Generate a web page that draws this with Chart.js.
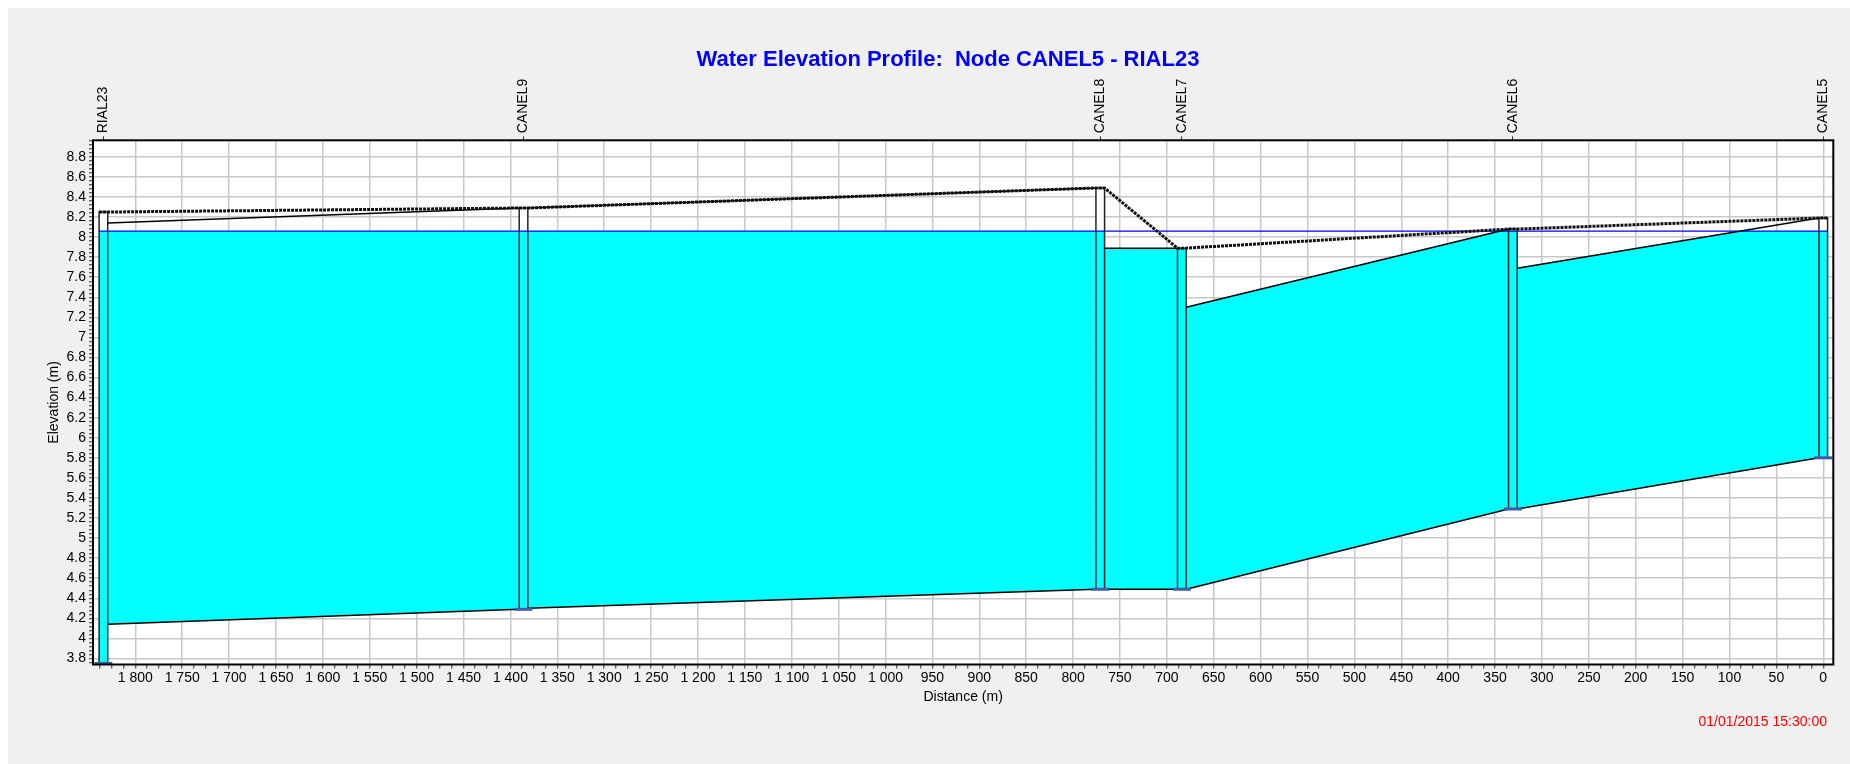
<!DOCTYPE html>
<html>
<head>
<meta charset="utf-8">
<title>Water Elevation Profile</title>
<script src="https://cdn.jsdelivr.net/npm/chart.js@4.4.1/dist/chart.umd.min.js"></script>
<style>
  html, body { margin: 0; padding: 0; background: #fff; }
  .panel { position: absolute; left: 8px; top: 8px; width: 1842px; height: 756px; background: #f0f0f0; }
  #profile { position: absolute; left: 0; top: 0; }
</style>
</head>
<body>
<div class="panel"></div>
<canvas id="profile" width="1850" height="764"></canvas>
<script>
// nodes, in order along the profile (distance measured from CANEL5)
const nodeNames  = ['RIAL23', 'CANEL9', 'CANEL8', 'CANEL7', 'CANEL6', 'CANEL5'];
const nodeDist   = [1834, 1386, 771, 684, 331, 0];
const nodeInvert = [3.75, 4.29, 4.49, 4.49, 5.29, 5.80];
const nodeGround = [8.25, 8.29, 8.49, 7.89, 8.08, 8.19];

// conduits, link i goes from node i to node i+1
const linkInvertUp   = [4.14, 4.30, 4.49, 4.49, 5.29];
const linkInvertDown = [4.29, 4.49, 4.49, 5.29, 5.80];
const linkCrownUp    = [8.14, 8.29, 7.89, 7.30, 7.69];
const linkCrownDown  = [8.29, 8.49, 7.89, 8.08, 8.19];

const waterLevel = 8.06;

const xTicks = [0, 50, 100, 150, 200, 250, 300, 350, 400, 450, 500, 550, 600, 650, 700, 750, 800, 850, 900,
  950, 1000, 1050, 1100, 1150, 1200, 1250, 1300, 1350, 1400, 1450, 1500, 1550, 1600, 1650, 1700, 1750, 1800];
const yTicks = [3.8, 4, 4.2, 4.4, 4.6, 4.8, 5, 5.2, 5.4, 5.6, 5.8, 6, 6.2, 6.4, 6.6, 6.8, 7, 7.2, 7.4, 7.6,
  7.8, 8, 8.2, 8.4, 8.6, 8.8];

const X_MIN = -10.7, X_MAX = 1845.1;
const Y_MIN = 3.74, Y_MAX = 8.965;

const CYAN = '#00ffff';
const HW = 4.6;      // half width of a node shaft, m
const MARK = 9.5;    // half width of the invert marker, m

Chart.defaults.font.family = '"Liberation Sans", Arial, sans-serif';
Chart.defaults.font.size = 14;
Chart.defaults.color = '#000';

// major ticks from the lists, unlabelled minor ticks between them
function withMinor(majors, sub, min, max) {
  const step = (majors[1] - majors[0]) / sub;
  const out = [];
  for (let k = Math.ceil(min / step - 1e-9); k * step <= max + 1e-9; k++) {
    const v = +(k * step).toFixed(6);
    out.push({ value: v, minor: !majors.some(m => Math.abs(m - v) < 1e-6) });
  }
  return out;
}

function fmtDist(v) {
  return v >= 1000 ? Math.floor(v / 1000) + ' ' + String(v % 1000).padStart(3, '0') : String(v);
}

const datasets = [];
function line(data, opts) {
  datasets.push(Object.assign({
    data, borderColor: '#000', borderWidth: 1.5, fill: false, pointRadius: 0, tension: 0
  }, opts));
}
function band(top, bottom, color, order) {
  line(top, { fill: '+1', backgroundColor: color, borderWidth: 0, borderColor: 'transparent', order });
  line(bottom, { borderWidth: 0, borderColor: 'transparent', order });
}

// conduits
for (let i = 0; i < nodeDist.length - 1; i++) {
  const x1 = nodeDist[i] - HW, x2 = nodeDist[i + 1] + HW;
  const c1 = linkCrownUp[i], c2 = linkCrownDown[i];
  const v1 = linkInvertUp[i], v2 = linkInvertDown[i];
  const at = (a, b, x) => a + (b - a) * (x - x1) / (x2 - x1);
  const xs = [x1];
  if ((c1 - waterLevel) * (c2 - waterLevel) < 0) xs.push(x1 + (waterLevel - c1) / (c2 - c1) * (x2 - x1));
  xs.push(x2);
  band(xs.map(x => ({ x, y: Math.min(waterLevel, at(c1, c2, x)) })),
       xs.map(x => ({ x, y: at(v1, v2, x) })), CYAN, 10);
  line([{ x: x1, y: c1 }, { x: x2, y: c2 }], { order: 3 });
  line([{ x: x1, y: v1 }, { x: x2, y: v2 }], { order: 3 });
}

// node shafts
nodeDist.forEach((d, i) => {
  const l = d + HW, r = d - HW;
  const inv = nodeInvert[i], g = nodeGround[i], w = Math.min(waterLevel, g);
  band([{ x: l, y: w }, { x: r, y: w }], [{ x: l, y: inv }, { x: r, y: inv }], CYAN, 10);
  if (g > waterLevel) {
    band([{ x: l, y: g }, { x: r, y: g }], [{ x: l, y: waterLevel }, { x: r, y: waterLevel }], '#fff', 10);
  }
  line([{ x: l, y: inv }, { x: l, y: g }, { x: r, y: g }, { x: r, y: inv }, { x: l, y: inv }],
       { order: 3, borderColor: '#222' });
  line([{ x: d + MARK, y: inv }, { x: d - MARK, y: inv }],
       { order: 1, borderColor: '#3d5ca8', borderWidth: 3, clip: false });
});

// ground line over the shaft tops
const ground = [];
nodeDist.forEach((d, i) => ground.push({ x: d + HW, y: nodeGround[i] }, { x: d - HW, y: nodeGround[i] }));
line(ground, { order: 2, borderWidth: 3, borderDash: [3, 1], borderColor: '#111' });

// hydraulic grade line
line([{ x: nodeDist[0] + HW, y: waterLevel }, { x: nodeDist[nodeDist.length - 1] - HW, y: waterLevel }],
     { order: 4, borderColor: '#0000ff', borderWidth: 1.2 });

const gridColor = ctx => (ctx.tick && ctx.tick.minor ? 'rgba(0,0,0,0)' : '#c8c8c8');

const frame = {
  id: 'frame',
  beforeDraw(chart) {
    const { ctx, chartArea: a } = chart;
    ctx.save();
    ctx.fillStyle = '#fff';
    ctx.fillRect(a.left, a.top, a.width, a.height);
    ctx.restore();
  },
  afterDatasetsDraw(chart) {
    const { ctx, chartArea: a } = chart;
    ctx.save();
    ctx.strokeStyle = '#000';
    ctx.lineWidth = 2;
    ctx.strokeRect(a.left, a.top, a.width, a.height);
    ctx.restore();
  },
  afterDraw(chart) {
    const ctx = chart.ctx;
    ctx.save();
    ctx.textBaseline = 'middle';
    ctx.textAlign = 'center';
    ctx.fillStyle = '#0000ff';
    ctx.font = 'bold 22px "Liberation Sans", Arial, sans-serif';
    ctx.fillText('Water Elevation Profile:  Node CANEL5 - RIAL23', 948, 60);
    ctx.textAlign = 'right';
    ctx.fillStyle = '#ff0000';
    ctx.font = '14px "Liberation Sans", Arial, sans-serif';
    ctx.fillText('01/01/2015 15:30:00', 1827, 722);
    ctx.restore();
  }
};

new Chart(document.getElementById('profile'), {
  type: 'line',
  data: { datasets },
  plugins: [frame],
  options: {
    responsive: false,
    animation: false,
    events: [],
    layout: { padding: { left: 0, right: 16.7, top: 0, bottom: 58.5 } },
    plugins: { legend: { display: false }, tooltip: { enabled: false }, title: { display: false } },
    scales: {
      x: {
        type: 'linear',
        position: 'bottom',
        reverse: true,
        bounds: 'data',
        min: X_MIN,
        max: X_MAX,
        afterBuildTicks: axis => { axis.ticks = withMinor(xTicks, 4, X_MIN, X_MAX); },
        afterFit: axis => { axis.height = 41; },
        ticks: {
          autoSkip: false,
          maxRotation: 0,
          minRotation: 0,
          padding: 1,
          callback: (v, i, ticks) => (ticks[i].minor ? '' : fmtDist(v))
        },
        grid: { color: gridColor, lineWidth: 1.5, tickColor: '#333', tickLength: 4, tickWidth: 1 },
        border: { display: false },
        title: { display: true, text: 'Distance (m)', padding: { top: 0, bottom: 0 } }
      },
      x2: {
        type: 'linear',
        position: 'top',
        reverse: true,
        bounds: 'data',
        min: X_MIN,
        max: X_MAX,
        afterBuildTicks: axis => { axis.ticks = nodeDist.map(v => ({ value: v })); },
        afterFit: axis => { axis.height = 140.3; },
        ticks: {
          autoSkip: false,
          minRotation: 90,
          maxRotation: 90,
          padding: 3,
          labelOffset: 16.8,
          callback: (v, i) => nodeNames[i]
        },
        grid: { drawOnChartArea: false, tickColor: '#333', tickLength: 4 },
        border: { display: false }
      },
      y: {
        type: 'linear',
        position: 'left',
        bounds: 'data',
        min: Y_MIN,
        max: Y_MAX,
        afterBuildTicks: axis => { axis.ticks = withMinor(yTicks, 5, Y_MIN, Y_MAX); },
        afterFit: axis => { axis.width = 93; },
        ticks: {
          autoSkip: false,
          padding: 3,
          callback: (v, i, ticks) => (ticks[i].minor ? '' : String(v))
        },
        grid: { color: gridColor, lineWidth: 1.5, tickColor: '#333', tickLength: 4, tickWidth: 1 },
        border: { display: false },
        title: { display: true, text: 'Elevation (m)', padding: { top: 46, bottom: 0 } }
      }
    }
  }
});
</script>
</body>
</html>
